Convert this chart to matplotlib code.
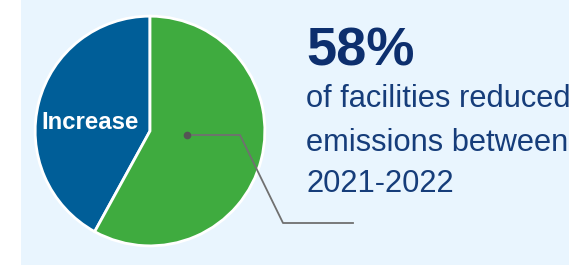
import matplotlib.pyplot as plt
from matplotlib.patches import Rectangle
from matplotlib.lines import Line2D

plt.rcParams['font.family'] = ['Liberation Sans', 'DejaVu Sans']

# data
labels = ['Increase', 'Decrease']
shares = [42, 58]
colors = ['#005e98', '#3fab3f']
headline = '58%'
body_lines = ['of facilities reduced', 'emissions between', '2021-2022']

W, H = 569, 267
fig = plt.figure(figsize=(W / 100, H / 100), dpi=100)
fig.patch.set_facecolor('white')

# light blue panel
fig.patches.append(Rectangle((21 / W, 2 / H), 1 - 21 / W, 1 - 2 / H,
                             transform=fig.transFigure, facecolor='#e9f5fe',
                             edgecolor='none', zorder=-5))

# pie axes: centre (150, 131 from top), radius 116 px
cx, cy, r = 150, H - 131, 116
ax = fig.add_axes([(cx - r) / W, (cy - r) / H, 2 * r / W, 2 * r / H])
ax.set_zorder(1)
ax.patch.set_visible(False)
wedges, _ = ax.pie(shares, colors=colors, startangle=90, counterclock=True,
                   wedgeprops=dict(edgecolor='white', linewidth=2))
ax.set_xlim(-1.01, 1.01)
ax.set_ylim(-1.01, 1.01)
ax.set_aspect('equal')
ax.axis('off')

ax.text(-0.52, 0.07, labels[0], color='white', fontsize=17.3, fontweight='bold',
        ha='center', va='center')

# leader line from the green slice to the text
px = [187, 240, 283, 353]
py = [135, 135, 223, 223]
fig.add_artist(Line2D([x / W for x in px], [(H - y) / H for y in py],
                      transform=fig.transFigure, color='#707070', lw=1.3,
                      zorder=5))
fig.add_artist(Line2D([px[0] / W], [(H - py[0]) / H], transform=fig.transFigure,
                      marker='o', markersize=4.5, color='#555555', lw=0,
                      zorder=5))

tx = 306 / W
fig.text(tx, (H - 65) / H, headline, fontsize=39, fontweight='bold',
         color='#0d2f6e', va='baseline')
for line, base in zip(body_lines, [107, 151, 192]):
    fig.text(tx, (H - base) / H, line, fontsize=22.2, color='#163d7a',
             va='baseline')

fig.savefig('out.png', dpi=100)
